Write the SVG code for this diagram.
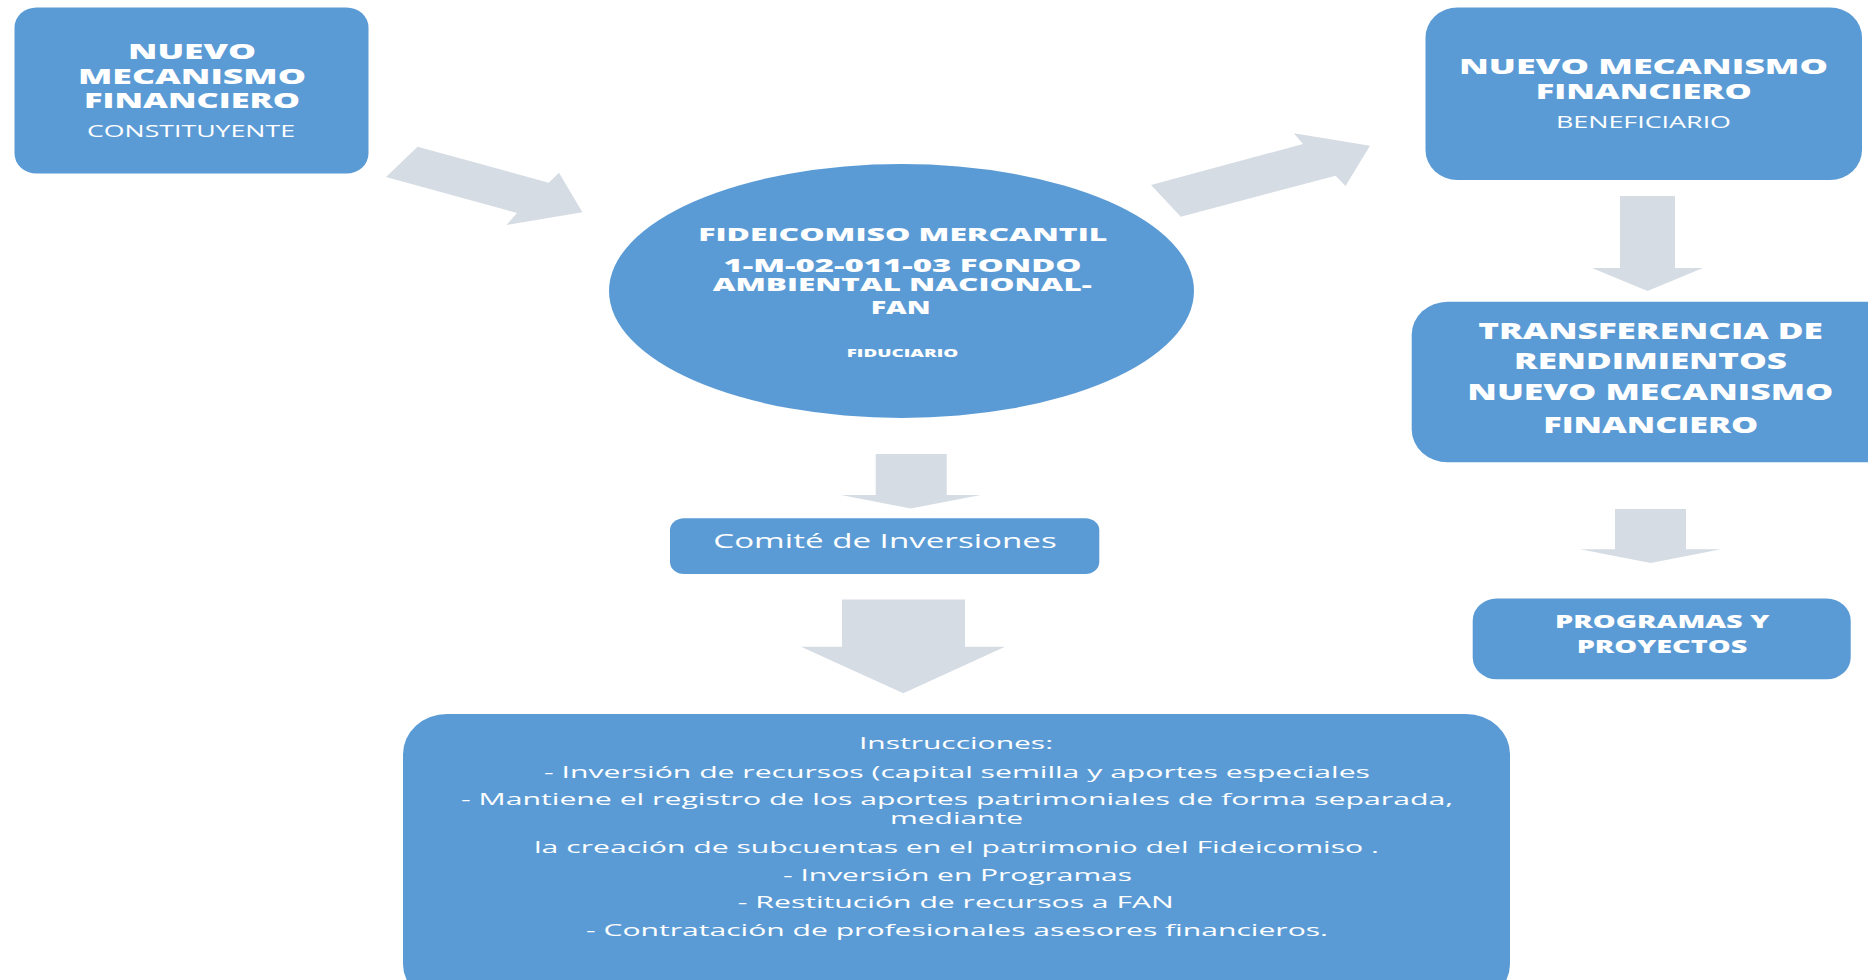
<svg xmlns="http://www.w3.org/2000/svg" width="1868" height="980" viewBox="0 0 1868 980">
<style>
.node{fill:#5B9BD5;}
.arrow{fill:#D5DCE4;}
text{fill:#FFFFFF;font-family:"Open Sans","Liberation Sans",sans-serif;text-anchor:middle;}
.b{font-weight:800;}
</style>
<rect width="1868" height="980" fill="#FFFFFF"/>
<g id="connectors">
<polygon class="arrow" points="417.6,146.7 548.7,182.7 559,172.7 582.4,212.3 506.5,225 517,213 386,177"/>
<polygon class="arrow" points="1151,185 1303,144 1293.8,133.3 1370,145.7 1345.5,186 1335.6,175.7 1180.8,216.7"/>
<polygon class="arrow" points="1620,196 1675,196 1675,268 1703,268 1647.5,291 1592,268 1620,268"/>
<polygon class="arrow" points="875.7,454 946.7,454 946.7,495 980.7,495 910.7,508.5 841,495 875.7,495"/>
<polygon class="arrow" points="842,599.5 965,599.5 965,646.7 1005,646.7 903.3,693.3 801,646.7 842,646.7"/>
<polygon class="arrow" points="1615,509 1686,509 1686,549.3 1721,549.3 1650.7,563 1580,549.3 1615,549.3"/>
</g>
<g id="constituyente">
<rect class="node" x="14.5" y="7.5" width="354" height="166" rx="22" ry="20"/>
<text class="b" x="192" y="59.3" font-size="21" textLength="128" lengthAdjust="spacingAndGlyphs">NUEVO</text>
<text class="b" x="192" y="84" font-size="21" textLength="228" lengthAdjust="spacingAndGlyphs">MECANISMO</text>
<text class="b" x="192" y="108.3" font-size="21" textLength="216" lengthAdjust="spacingAndGlyphs">FINANCIERO</text>
<text x="191" y="136.7" font-size="15.5" textLength="208" lengthAdjust="spacingAndGlyphs">CONSTITUYENTE</text>
</g>
<g id="beneficiario">
<rect class="node" x="1425.5" y="7.5" width="436.5" height="172.5" rx="32" ry="30"/>
<text class="b" x="1643.5" y="74" font-size="21" textLength="369" lengthAdjust="spacingAndGlyphs">NUEVO MECANISMO</text>
<text class="b" x="1643.8" y="99.3" font-size="21" textLength="216" lengthAdjust="spacingAndGlyphs">FINANCIERO</text>
<text x="1643.5" y="127.7" font-size="16.5" textLength="175" lengthAdjust="spacingAndGlyphs">BENEFICIARIO</text>
</g>
<g id="fideicomiso">
<ellipse class="node" cx="901.5" cy="291" rx="292.5" ry="127"/>
<text class="b" x="902.8" y="240.5" font-size="18" textLength="409" lengthAdjust="spacingAndGlyphs">FIDEICOMISO MERCANTIL</text>
<text class="b" x="902.5" y="271.7" font-size="18" textLength="358" lengthAdjust="spacingAndGlyphs">1-M-02-011-03 FONDO</text>
<text class="b" x="902.2" y="291" font-size="18" textLength="379" lengthAdjust="spacingAndGlyphs">AMBIENTAL NACIONAL-</text>
<text class="b" x="900.7" y="314" font-size="18" textLength="60" lengthAdjust="spacingAndGlyphs">FAN</text>
<text class="b" x="902.5" y="356.7" font-size="10.5" textLength="111.6" lengthAdjust="spacingAndGlyphs">FIDUCIARIO</text>
</g>
<g id="transferencia">
<rect class="node" x="1411.7" y="301.7" width="490" height="160.6" rx="36" ry="33"/>
<text class="b" x="1650.5" y="339" font-size="22" textLength="344.7" lengthAdjust="spacingAndGlyphs">TRANSFERENCIA DE</text>
<text class="b" x="1650.5" y="369.3" font-size="22" textLength="273" lengthAdjust="spacingAndGlyphs">RENDIMIENTOS</text>
<text class="b" x="1650.3" y="400" font-size="22" textLength="366" lengthAdjust="spacingAndGlyphs">NUEVO MECANISMO</text>
<text class="b" x="1650.8" y="432.7" font-size="22" textLength="215" lengthAdjust="spacingAndGlyphs">FINANCIERO</text>
</g>
<g id="programas">
<rect class="node" x="1472.7" y="598.5" width="378" height="80.8" rx="24" ry="22"/>
<text class="b" x="1662.2" y="628.3" font-size="17.7" textLength="214.3" lengthAdjust="spacingAndGlyphs">PROGRAMAS Y</text>
<text class="b" x="1662" y="653.3" font-size="17.7" textLength="170.6" lengthAdjust="spacingAndGlyphs">PROYECTOS</text>
</g>
<g id="comite">
<rect class="node" x="670" y="518.3" width="429.3" height="55.7" rx="14" ry="12"/>
<text x="885" y="548.3" font-size="19.6" textLength="343.4" lengthAdjust="spacingAndGlyphs">Comité de Inversiones</text>
</g>
<g id="instrucciones">
<rect class="node" x="403" y="714" width="1107" height="290" rx="44" ry="40"/>
<text x="956" y="749.3" font-size="16" textLength="194" lengthAdjust="spacingAndGlyphs">Instrucciones:</text>
<text x="957" y="778" font-size="16" textLength="826" lengthAdjust="spacingAndGlyphs">- Inversión de recursos (capital semilla y aportes especiales</text>
<text x="957" y="805" font-size="16" textLength="992" lengthAdjust="spacingAndGlyphs">- Mantiene el registro de los aportes patrimoniales de forma separada,</text>
<text x="956.5" y="824.3" font-size="16" textLength="133" lengthAdjust="spacingAndGlyphs">mediante</text>
<text x="956.5" y="852.7" font-size="16" textLength="845" lengthAdjust="spacingAndGlyphs">la creación de subcuentas en el patrimonio del Fideicomiso .</text>
<text x="957.5" y="880.7" font-size="16" textLength="349" lengthAdjust="spacingAndGlyphs">- Inversión en Programas</text>
<text x="955.8" y="908.3" font-size="16" textLength="436" lengthAdjust="spacingAndGlyphs">- Restitución de recursos a FAN</text>
<text x="957" y="936" font-size="16" textLength="742" lengthAdjust="spacingAndGlyphs">- Contratación de profesionales asesores financieros.</text>
</g>
</svg>
